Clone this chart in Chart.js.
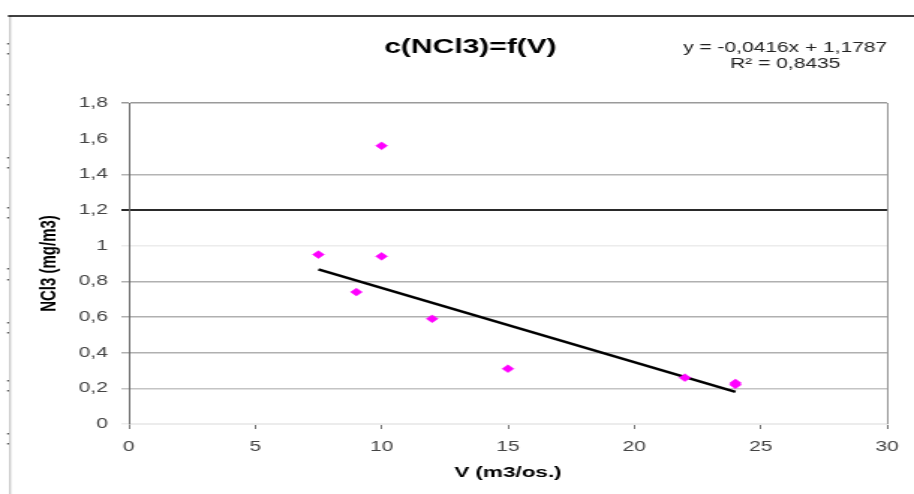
<!DOCTYPE html>
<html>
<head>
<meta charset="utf-8">
<script src="https://cdn.jsdelivr.net/npm/chart.js@4/dist/chart.umd.min.js"></script>
<style>
  html, body { margin: 0; padding: 0; background: #fff; }
  #chart { display: block; width: 914px; height: 494px; }
</style>
</head>
<body>
<canvas id="chart" width="610" height="494" style="width:914px;height:494px"></canvas>
<script>
// measured points, V (m3/os.) against c(NCl3) (mg/m3)
var pointsX = [7.5, 9, 10, 10, 12, 15, 22, 24, 24];
var pointsY = [0.95, 0.74, 1.56, 0.94, 0.59, 0.31, 0.26, 0.22, 0.23];
// trend line ends
var trendX = [7.5, 24];
var trendY = [0.867, 0.18];
var yTickLabels = ['0', '0,2', '0,4', '0,6', '0,8', '1', '1,2', '1,4', '1,6', '1,8'];
var xTickLabels = ['0', '5', '10', '15', '20', '25', '30'];
var chartTitle = 'c(NCl3)=f(V)';
var trendText = ['y = -0,0416x + 1,1787', 'R² = 0,8435'];
var xTitle = 'V (m3/os.)';
var yTitle = 'NCl3 (mg/m3)';

Chart.defaults.font.family = '"Liberation Sans", Arial, sans-serif';
Chart.defaults.color = '#444';

// grid colours per y tick, bottom to top
var yGridColors = ['#ececec', '#c4c4c4', '#b0b0b0', '#b0b0b0', '#b0b0b0', '#ececec', '#2a2a2a', '#b4b4b4', 'rgba(0,0,0,0)', '#9a9a9a'];

var frame = {
    id: 'frame',
    beforeDraw: function(chart) {
        var ctx = chart.ctx;
        ctx.save();
        ctx.fillStyle = '#fff';
        ctx.fillRect(0, 0, chart.width, chart.height);
        ctx.strokeStyle = '#c8c8c8';
        ctx.lineWidth = 1.3;
        ctx.beginPath();
        ctx.moveTo(6.7, 16);
        ctx.lineTo(6.7, chart.height);
        ctx.stroke();
        ctx.strokeStyle = '#000';
        ctx.lineWidth = 1.5;
        ctx.beginPath();
        ctx.moveTo(5.3, 16);
        ctx.lineTo(chart.width, 16);
        ctx.stroke();
        ctx.fillStyle = '#333';
        [43, 53, 94, 104, 157, 167, 207, 217, 268, 279, 322, 332, 380, 390, 433, 443].forEach(function(y) {
            ctx.fillRect(4.8, y, 1, 1.5);
        });
        ctx.restore();
    },
    afterDraw: function(chart) {
        var ctx = chart.ctx;
        ctx.save();
        ctx.textAlign = 'center';
        ctx.textBaseline = 'middle';
        ctx.fillStyle = '#000';
        ctx.font = 'bold 20px "Liberation Sans", Arial, sans-serif';
        ctx.fillText(chartTitle, 314, 47);
        ctx.fillStyle = '#222';
        ctx.font = '14px "Liberation Sans", Arial, sans-serif';
        ctx.fillText(trendText[0], 524, 48);
        ctx.fillText(trendText[1], 524, 64);
        ctx.restore();
    }
};

var chart = new Chart(document.getElementById('chart'), {
    type: 'scatter',
    data: {
        datasets: [{
            label: 'c(NCl3)',
            data: pointsX.map(function(x, i) { return {x: x, y: pointsY[i]}; }),
            pointStyle: 'rectRot',
            pointRadius: 3.9,
            backgroundColor: '#ff00ff',
            borderColor: '#ff00ff',
            borderWidth: 0.5
        }, {
            label: 'trend',
            data: trendX.map(function(x, i) { return {x: x, y: trendY[i]}; }),
            showLine: true,
            pointRadius: 0,
            borderColor: '#000',
            borderWidth: 2.4
        }]
    },
    options: {
        responsive: false,
        devicePixelRatio: 1,
        animation: false,
        layout: { padding: { top: 103, right: 18, bottom: 0, left: 0 } },
        plugins: {
            legend: { display: false },
            tooltip: { enabled: false },
            title: { display: false }
        },
        scales: {
            x: {
                type: 'linear',
                min: 0,
                max: 30,
                afterFit: function(s) { s.height = 70; },
                ticks: {
                    stepSize: 5,
                    padding: 10,
                    color: '#444',
                    font: { size: 14 },
                    maxRotation: 0,
                    callback: function(v) { return xTickLabels[Math.round(v / 5)]; }
                },
                grid: {
                    color: function(c) { return c.tick && c.tick.value === 30 ? '#999' : 'rgba(0,0,0,0)'; },
                    tickColor: '#777',
                    tickLength: 5,
                    lineWidth: 1
                },
                border: { color: '#ececec', width: 1 },
                title: {
                    display: true,
                    text: xTitle,
                    color: '#000',
                    font: { size: 15, weight: 'bold' },
                    padding: { top: 0, bottom: 12 }
                }
            },
            y: {
                min: 0,
                max: 1.8,
                afterFit: function(s) { s.width = 86; },
                ticks: {
                    stepSize: 0.2,
                    padding: 9,
                    color: '#444',
                    font: { size: 14 },
                    callback: function(v) { return yTickLabels[Math.round(v / 0.2)]; }
                },
                grid: {
                    color: function(c) { return c.tick ? yGridColors[Math.round(c.tick.value / 0.2)] : '#b0b0b0'; },
                    lineWidth: function(c) { return c.tick && Math.abs(c.tick.value - 1.2) < 1e-6 ? 2 : 1.5; },
                    tickLength: 5
                },
                border: { color: '#666', width: 1 },
                title: {
                    display: true,
                    text: yTitle,
                    color: '#000',
                    font: { size: 15, weight: 'bold' },
                    padding: { top: 24, bottom: 0 }
                }
            }
        }
    },
    plugins: [frame]
});
</script>
</body>
</html>
